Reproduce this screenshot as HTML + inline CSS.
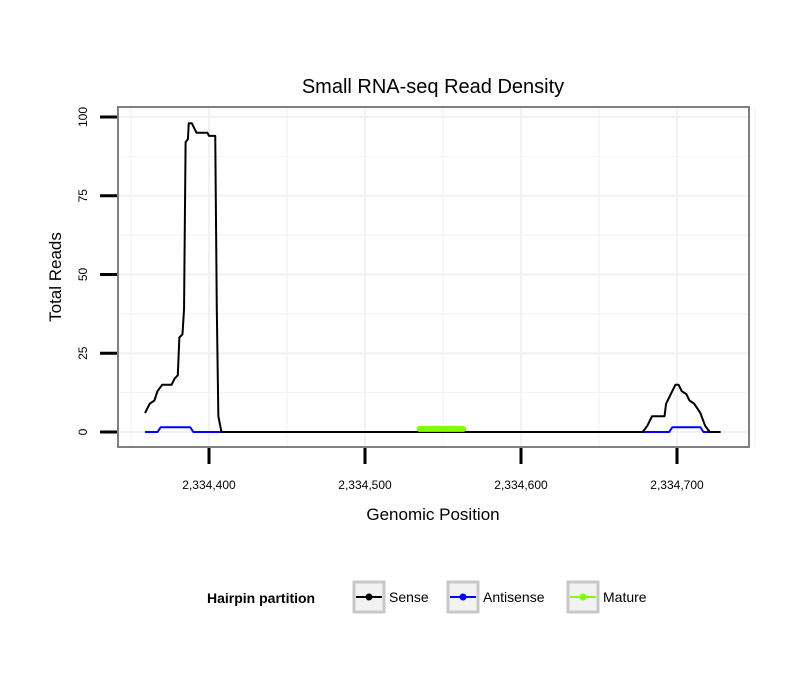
<!DOCTYPE html>
<html><head><meta charset="utf-8"><style>body{margin:0;background:#fff}svg{font-family:"Liberation Sans",sans-serif}</style></head>
<body>
<svg id="c" width="810" height="690"></svg>
<script>
const senseX=[-41,-38,-35,-33,-30,-24,-22,-20,-19,-17,-16,-15,-13.5,-13,-11,-8,-1,0,4,5,6,8,278,281,284,292,293,296,299,301,303,306,308,311,315,318,321,328];
const senseY=[6,9,10,13,15,15,17,18,30,31,39,92,93,98,98,95,95,94,94,39,5,0,0,2,5,5,9,12,15,15,13,12,10,9,6,2,0,0];
const antiX=[-41,-33,-31,-12,-10,295,297,315,317,322];
const antiY=[0,0,1.5,1.5,0,0,1.5,1.5,0,0];
const matureX=[135,163];
const matureY=[1,1];
const xTicks=[2334400,2334500,2334600,2334700];
const yTicks=[0,25,50,75,100];
const base=2334400;
const NS="http://www.w3.org/2000/svg",svg=document.getElementById('c');
const X=v=>209+(v-base)*1.56, Xo=o=>209+o*1.56, Y=v=>432-v*3.15;
function el(t,a,p){const e=document.createElementNS(NS,t);for(const k in a)e.setAttribute(k,a[k]);(p||svg).appendChild(e);return e;}
for(let v=2334350;v<=2334750;v+=50){const l=el('line',{x1:X(v),x2:X(v),y1:107,y2:447,stroke:'#f2f2f2','stroke-width':v%100?1:2});}
for(let v=-12.5;v<=112.5;v+=12.5){if(Y(v)<107||Y(v)>447)continue;const l=el('line',{x1:118,x2:749,y1:Y(v),y2:Y(v),stroke:'#f2f2f2','stroke-width':v%25?1:2});}
const border=el('rect',{x:118,y:107,width:631,height:340,fill:'none',stroke:'#808080','stroke-width':2});

function line(xs,ys,col,w,name,cap){const d=xs.map((x,i)=>(i?'L':'M')+Xo(x)+','+Y(ys[i])).join('');const p=el('path',{d:d,fill:'none',stroke:col,'stroke-width':w,'stroke-linejoin':'round','stroke-linecap':cap||'butt'});}
line(antiX,antiY,'#0000ff',2,'antisense-line');
line(senseX,senseY,'#000',2,'sense-line');
line(matureX,matureY,'#7fff00',6,'mature-line','round');
xTicks.forEach(v=>{el('line',{x1:X(v),x2:X(v),y1:448,y2:464,stroke:'#000','stroke-width':3});const t=el('text',{x:X(v),y:489,'text-anchor':'middle','font-size':12});t.textContent=v.toLocaleString('en-US');});
yTicks.forEach(v=>{el('line',{x1:100,x2:117,y1:Y(v),y2:Y(v),stroke:'#000','stroke-width':3});const t=el('text',{x:0,y:0,'text-anchor':'middle','font-size':12,transform:`translate(87,${Y(v)}) rotate(-90)`});t.textContent=v;});
let t=el('text',{x:433,y:93,'text-anchor':'middle','font-size':20});t.textContent='Small RNA-seq Read Density';
t=el('text',{x:433,y:520,'text-anchor':'middle','font-size':17});t.textContent='Genomic Position';
t=el('text',{x:0,y:0,'text-anchor':'middle','font-size':17,transform:'translate(61,277) rotate(-90)'});t.textContent='Total Reads';
t=el('text',{x:207,y:603,'font-size':14,'font-weight':'bold'});t.textContent='Hairpin partition';
[['Sense','#000',352],['Antisense','#0000ff',446],['Mature','#7fff00',566]].forEach(([n,c,x])=>{
 const g=el('g',{});
 el('rect',{x:x+2,y:582,width:30,height:30,fill:'#f2f2f2',stroke:'#c8c8c8','stroke-width':3},g);
 el('line',{x1:x+4,x2:x+30,y1:597,y2:597,stroke:c,'stroke-width':2},g);
 el('circle',{cx:x+17,cy:597,r:3.5,fill:c},g);
 const tt=el('text',{x:x+37,y:602,'font-size':14},g);tt.textContent=n;});
</script>
</body></html>
